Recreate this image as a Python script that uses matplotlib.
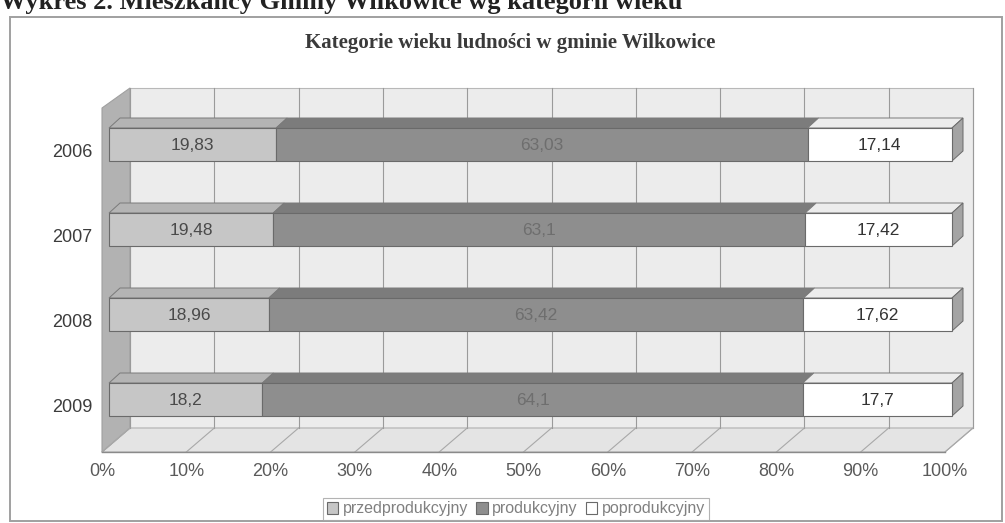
import matplotlib
matplotlib.use('Agg')
import matplotlib.pyplot as plt
from matplotlib.patches import Polygon, Rectangle, Patch

# ---- data ----
years = ['2006', '2007', '2008', '2009']
przedprodukcyjny = [19.83, 19.48, 18.96, 18.2]
produkcyjny = [63.03, 63.1, 63.42, 64.1]
poprodukcyjny = [17.14, 17.42, 17.62, 17.7]
series_names = ['przedprodukcyjny', 'produkcyjny', 'poprodukcyjny']
x_ticks = [0, 10, 20, 30, 40, 50, 60, 70, 80, 90, 100]
x_tick_labels = ['0%', '10%', '20%', '30%', '40%', '50%', '60%', '70%', '80%', '90%', '100%']
chart_title = 'Kategorie wieku ludności w gminie Wilkowice'
page_title = 'Wykres 2. Mieszkańcy Gminy Wilkowice wg kategorii wieku'

# ---- style ----
face_cols = ['#c6c6c6', '#8e8e8e', '#ffffff']
top_cols = ['#b4b4b4', '#7c7c7c', '#ececec']
label_cols = ['#4a4a4a', '#6e6e6e', '#333333']
SANS = ['Liberation Sans', 'DejaVu Sans']
SERIF = ['Liberation Serif', 'DejaVu Serif']

W, H = 1005, 523
fig = plt.figure(figsize=(W / 100, H / 100), dpi=100)
ax = fig.add_axes([0, 0, 1, 1])

# bar front plane scale: pixels per percent and per category
X0, SX = 109.0, 8.43
Y0, SY = 144.5, 85.0
ax.set_xlim(-X0 / SX, (W - X0) / SX)
ax.set_ylim((H - Y0) / SY, -Y0 / SY)
ax.axis('off')


def ox(p):  # pixel offset -> data x
    return p / SX


def oy(p):  # pixel offset -> data y (down positive)
    return p / SY


n = len(years)
# ---- 3D box geometry (relative to bar plane) ----
front_dx = -7
back_dx = 21
wall_dy = -24
floor_front_y = (n - 1) + oy(452 - 399.5)
floor_back_y = floor_front_y + oy(wall_dy)
wall_top_y = oy(88 - Y0)

xf0 = ox(front_dx)
xb0 = ox(back_dx)

# frame
fig.patches.append(Rectangle((10 / W, 2 / H), 992 / W, 504 / H, transform=fig.transFigure,
                             fill=False, edgecolor='#a0a0a0', lw=1.4))

# back wall
ax.add_patch(Polygon([(xb0, wall_top_y), (xb0 + 100, wall_top_y),
                      (xb0 + 100, floor_back_y), (xb0, floor_back_y)],
                     closed=True, facecolor='#ececec', edgecolor='#b8b8b8', lw=0.8, zorder=1))
# left wall
ax.add_patch(Polygon([(xf0, wall_top_y - oy(wall_dy) - oy(4)), (xb0, wall_top_y),
                      (xb0, floor_back_y), (xf0, floor_front_y)],
                     closed=True, facecolor='#b2b2b2', edgecolor='#a0a0a0', lw=0.8, zorder=1.2))
# floor
ax.add_patch(Polygon([(xf0, floor_front_y), (xf0 + 100, floor_front_y),
                      (xb0 + 100, floor_back_y), (xb0, floor_back_y)],
                     closed=True, facecolor='#e4e4e4', edgecolor='#b0b0b0', lw=0.8, zorder=1.1))

# gridlines on back wall and floor
for t in x_ticks:
    ax.plot([xb0 + t, xb0 + t], [wall_top_y, floor_back_y], color='#9a9a9a', lw=0.8, zorder=1.5)
    ax.plot([xf0 + t, xb0 + t], [floor_front_y, floor_back_y], color='#a8a8a8', lw=0.8, zorder=1.5)
ax.plot([xf0, xf0 + 100], [floor_front_y, floor_front_y], color='#8a8a8a', lw=1.0, zorder=1.6)

# ---- bars ----
bh = 33 / SY
bdx, bdy = ox(11), oy(-10)
ypos = list(range(n))
series = [przedprodukcyjny, produkcyjny, poprodukcyjny]
lefts = [0.0] * n
for s, vals in enumerate(series):
    ax.barh(ypos, vals, left=lefts, height=bh, color=face_cols[s], edgecolor='#6a6a6a',
            lw=0.8, zorder=3)
    for i, v in enumerate(vals):
        l = lefts[i]
        ytop = i - bh / 2
        ax.add_patch(Polygon([(l, ytop), (l + v, ytop), (l + v + bdx, ytop + bdy), (l + bdx, ytop + bdy)],
                             closed=True, facecolor=top_cols[s], edgecolor='#7a7a7a', lw=0.7, zorder=2.9))
        if s == len(series) - 1:
            r = l + v
            ax.add_patch(Polygon([(r, ytop), (r + bdx, ytop + bdy), (r + bdx, ytop + bh + bdy), (r, ytop + bh)],
                                 closed=True, facecolor='#a4a4a4', edgecolor='#6a6a6a', lw=0.7, zorder=2.9))
        txt = ('%g' % v).replace('.', ',')
        ax.text(l + v / 2, i + oy(1), txt, ha='center', va='center', fontsize=12.5,
                family=SANS, color=label_cols[s], zorder=5)
    lefts = [lefts[i] + vals[i] for i in range(n)]

# category labels
for i, y in enumerate(years):
    ax.text(ox(-17), i + oy(8), y, ha='right', va='center', fontsize=13,
            family=SANS, color='#3c3c3c')

# x tick labels
for t, lab in zip(x_ticks, x_tick_labels):
    ax.text(xf0 + t, floor_front_y + oy(19), lab, ha='center', va='center', fontsize=13,
            family=SANS, color='#5a5a5a')

# titles
fig.text(510 / W, 1 - 43 / H, chart_title, ha='center', va='center', fontsize=15,
         family=SERIF, weight='bold', color='#3a3a3a')
fig.text(0 / W, 1 - 9 / H, page_title, ha='left', va='baseline', fontsize=19,
         family=SERIF, weight='bold', color='#222222')

# legend
handles = [Patch(facecolor=face_cols[k], edgecolor='#6a6a6a', lw=0.8) for k in range(3)]
leg = fig.legend(handles, series_names, loc='center', bbox_to_anchor=(516 / W, 1 - 509 / H),
                 ncol=3, frameon=True, handlelength=0.7, handleheight=0.7,
                 handletextpad=0.3, columnspacing=0.5, borderpad=0.25, fancybox=False,
                 prop={'family': SANS, 'size': 11.5})
leg.get_frame().set_edgecolor('#a0a0a0')
leg.get_frame().set_linewidth(0.8)
for t in leg.get_texts():
    t.set_color('#808080')

fig.savefig('out.png', dpi=100)
